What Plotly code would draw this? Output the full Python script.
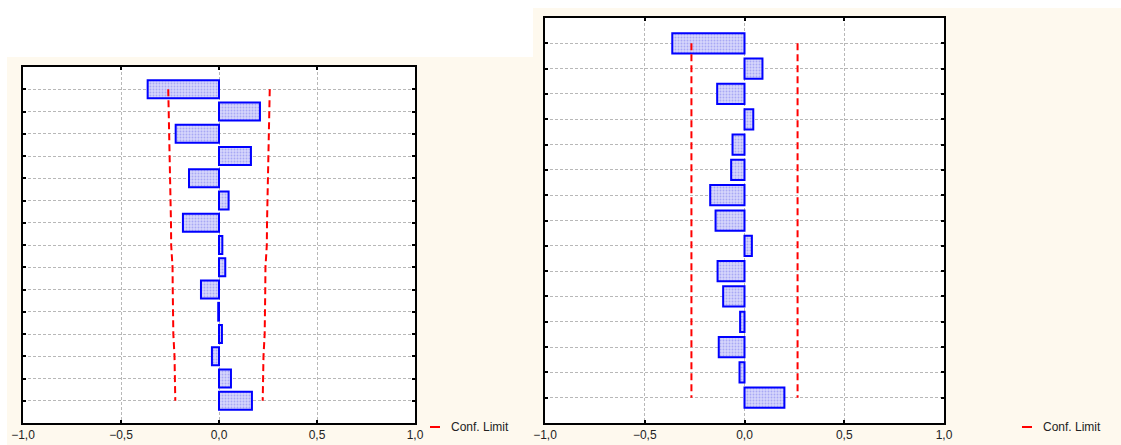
import plotly.graph_objects as go

# Lags (rows, lag 1 at the top)
lags = list(range(1, 16))

# Autocorrelation function and its confidence band
acf_values = [-0.364, 0.209, -0.221, 0.163, -0.153, 0.049, -0.184, 0.017,
              0.032, -0.092, -0.004, 0.015, -0.036, 0.061, 0.168]
acf_limit = [0.259, 0.256, 0.253, 0.251, 0.248, 0.246, 0.245, 0.244,
             0.237, 0.236, 0.234, 0.233, 0.227, 0.225, 0.223]

# Partial autocorrelation function and its confidence band
pacf_values = [-0.362, 0.090, -0.137, 0.044, -0.060, -0.067, -0.172, -0.145,
               0.037, -0.135, -0.107, -0.022, -0.129, -0.025, 0.200]
pacf_limit = [0.266] * 15

x_ticks = [-1.0, -0.5, 0.0, 0.5, 1.0]
legend_text = "Conf. Limit"

W, H = 1121, 445
CREAM = "#fef9ee"
BAR_FILL = "#c4c4f8"
BAR_LINE = "#0000ff"
LIMIT_RED = "#ff0000"
GRID = "#b8b8b8"
FONT = "Liberation Sans, Arial, sans-serif"

# Plot frames in pixels: (left, right, top, bottom)
FRAMES = [(23, 415, 67, 423), (545, 944, 18, 423)]


def px_x(v):
    return v / W


def px_y(v):
    return 1 - v / H


fig = go.Figure()

panels = [
    ("x", "y", acf_values, acf_limit),
    ("x2", "y2", pacf_values, pacf_limit),
]

for xa, ya, vals, lim in panels:
    fig.add_trace(go.Bar(
        x=vals, y=lags, orientation="h", width=0.8,
        marker=dict(color=BAR_FILL, line=dict(color=BAR_LINE, width=2),
                    pattern=dict(shape=".", size=3, solidity=0.3,
                                 fgcolor="#a8a8f4", bgcolor="#d6d6fc",
                                 fillmode="replace")),
        xaxis=xa, yaxis=ya, showlegend=False, hoverinfo="x+y",
    ))
    for sign in (-1, 1):
        fig.add_trace(go.Scatter(
            x=[sign * v for v in lim], y=lags, mode="lines",
            line=dict(color=LIMIT_RED, width=2, dash="7px,4px"),
            xaxis=xa, yaxis=ya, showlegend=False, hoverinfo="skip",
        ))

axis_common = dict(
    showline=True, linecolor="black", linewidth=2, mirror="ticks",
    ticks="inside", ticklen=3, tickwidth=2, tickcolor="black",
    showgrid=True, gridcolor=GRID, gridwidth=1, griddash="3px,2px",
    zeroline=False, automargin=False,
)

x_common = dict(axis_common, range=[-1, 1], tickvals=x_ticks, tickformat=".1f",
                tickfont=dict(family=FONT, size=12, color="#222222"))
y_common = dict(axis_common, range=[16, 0], tickvals=lags, showticklabels=False)

(l1, r1, t1, b1), (l2, r2, t2, b2) = FRAMES

fig.update_layout(
    width=W, height=H,
    margin=dict(l=0, r=0, t=0, b=0, autoexpand=False),
    paper_bgcolor="white", plot_bgcolor="white",
    separators=", ",
    xaxis=dict(x_common, domain=[px_x(l1), px_x(r1)], anchor="y"),
    yaxis=dict(y_common, domain=[px_y(b1), px_y(t1)], anchor="x"),
    xaxis2=dict(x_common, domain=[px_x(l2), px_x(r2)], anchor="y2"),
    yaxis2=dict(y_common, domain=[px_y(b2), px_y(t2)], anchor="x2"),
    font=dict(family=FONT, size=12, color="#222222"),
)

# Cream panel backgrounds, with white plot areas laid over them
fig.add_shape(type="rect", xref="paper", yref="paper", layer="below",
              x0=px_x(7), x1=px_x(533), y0=0, y1=px_y(57),
              fillcolor=CREAM, line=dict(width=0))
fig.add_shape(type="rect", xref="paper", yref="paper", layer="below",
              x0=px_x(533), x1=1, y0=0, y1=px_y(8),
              fillcolor=CREAM, line=dict(width=0))
for l, r, t, b in FRAMES:
    fig.add_shape(type="rect", xref="paper", yref="paper", layer="below",
                  x0=px_x(l), x1=px_x(r), y0=px_y(b), y1=px_y(t),
                  fillcolor="white", line=dict(width=0))

# Legend key for the confidence limits of each panel
for x0 in (430, 1022):
    fig.add_shape(type="line", xref="paper", yref="paper",
                  x0=px_x(x0), x1=px_x(x0 + 10), y0=px_y(427), y1=px_y(427),
                  line=dict(color=LIMIT_RED, width=2))
    fig.add_annotation(text=legend_text, xref="paper", yref="paper",
                       x=px_x(x0 + 19), y=px_y(427), xanchor="left",
                       yanchor="middle", showarrow=False,
                       font=dict(family=FONT, size=12, color="#222222"))

fig.write_html("out.html")
